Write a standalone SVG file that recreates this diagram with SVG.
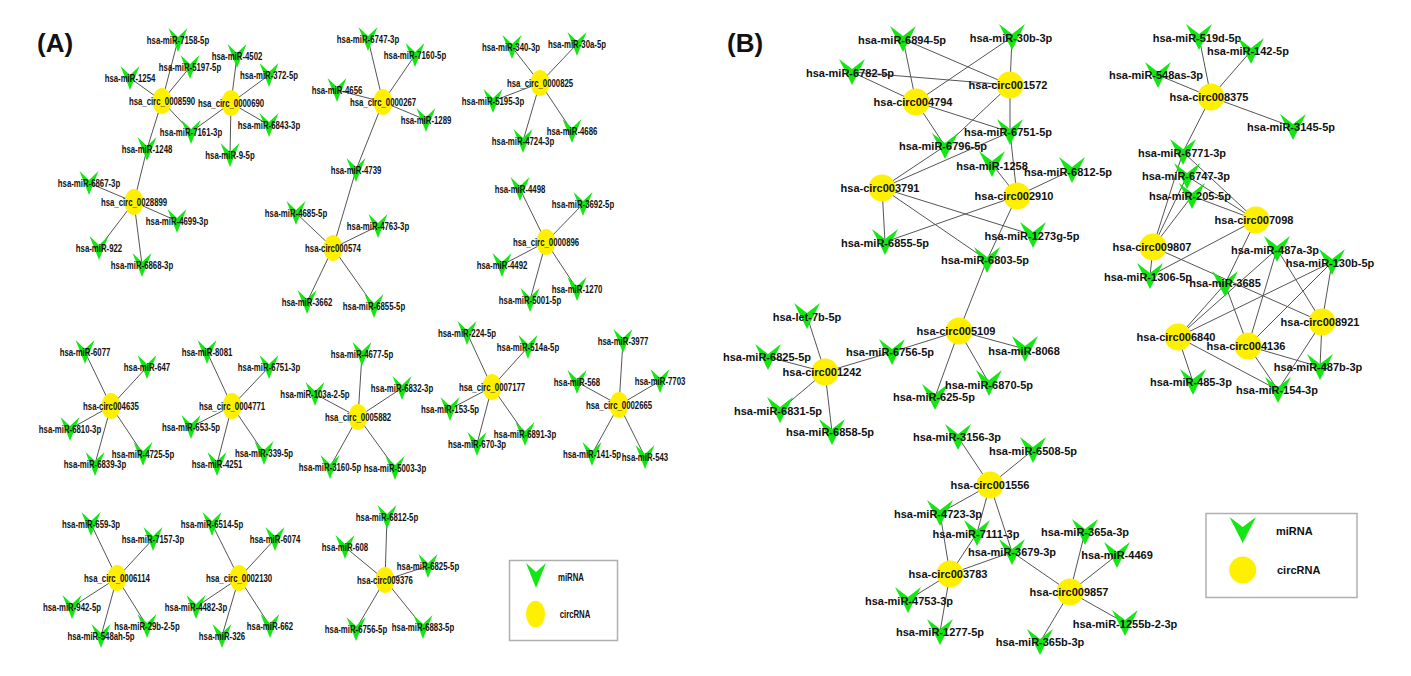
<svg xmlns="http://www.w3.org/2000/svg" xmlns:xlink="http://www.w3.org/1999/xlink" width="1411" height="676" viewBox="0 0 1411 676">
<style>
.e line{stroke:#555;stroke-width:1}
.ta{font-family:"Liberation Sans",Arial,sans-serif;font-weight:bold;font-size:10px;text-anchor:middle;fill:#111}
.tb{font-family:"Liberation Sans",Arial,sans-serif;font-weight:bold;font-size:11px;text-anchor:middle;fill:#111}
.tl{font-family:"Liberation Sans",Arial,sans-serif;font-weight:bold;fill:#111}
.ca{fill:#fff000}
.mi{fill:#14e614}
.lg{fill:#fff;stroke:#b0b0b0;stroke-width:1.5}
</style>
<defs>
<path id="va" class="mi" d="M-9.5,-12 L0,-3 L9.5,-12 L0,12 Z"/>
<path id="vb" class="mi" d="M-13,-13 L0,-3 L13,-13 L0,13 Z"/>
</defs>
<rect width="1411" height="676" fill="#fff"/>
<text class="tl" x="37" y="52" font-size="26">(A)</text>
<text class="tl" x="727" y="52" font-size="26">(B)</text>
<g id="edges" class="e">
<line x1="162" y1="101" x2="178" y2="40"/><line x1="162" y1="101" x2="190" y2="67"/><line x1="162" y1="101" x2="130" y2="78"/><line x1="162" y1="101" x2="191" y2="132"/><line x1="162" y1="101" x2="147" y2="149"/>
<line x1="231" y1="103" x2="237" y2="56"/><line x1="231" y1="103" x2="269" y2="75"/><line x1="231" y1="103" x2="269" y2="125"/><line x1="231" y1="103" x2="230" y2="155"/><line x1="231" y1="103" x2="191" y2="132"/>
<line x1="134" y1="202" x2="147" y2="149"/><line x1="134" y1="202" x2="89" y2="183"/><line x1="134" y1="202" x2="177" y2="221"/><line x1="134" y1="202" x2="99" y2="248"/><line x1="134" y1="202" x2="142" y2="265"/>
<line x1="383" y1="102" x2="368" y2="39"/><line x1="383" y1="102" x2="415" y2="55"/><line x1="383" y1="102" x2="337" y2="90"/><line x1="383" y1="102" x2="426" y2="120"/><line x1="383" y1="102" x2="356" y2="170"/>
<line x1="333" y1="248" x2="356" y2="170"/><line x1="333" y1="248" x2="296" y2="213"/><line x1="333" y1="248" x2="378" y2="226"/><line x1="333" y1="248" x2="307" y2="302"/><line x1="333" y1="248" x2="374" y2="306"/>
<line x1="540" y1="83" x2="512" y2="47"/><line x1="540" y1="83" x2="577" y2="44"/><line x1="540" y1="83" x2="493" y2="101"/><line x1="540" y1="83" x2="572" y2="131"/><line x1="540" y1="83" x2="523" y2="141"/>
<line x1="546" y1="242" x2="520" y2="189"/><line x1="546" y1="242" x2="583" y2="204"/><line x1="546" y1="242" x2="502" y2="265"/><line x1="546" y1="242" x2="577" y2="289"/><line x1="546" y1="242" x2="530" y2="300"/>
<line x1="111" y1="406" x2="85" y2="352"/><line x1="111" y1="406" x2="147" y2="367"/><line x1="111" y1="406" x2="70" y2="429"/><line x1="111" y1="406" x2="143" y2="454"/><line x1="111" y1="406" x2="95" y2="464"/>
<line x1="232" y1="406" x2="207" y2="352"/><line x1="232" y1="406" x2="269" y2="367"/><line x1="232" y1="406" x2="191" y2="427"/><line x1="232" y1="406" x2="264" y2="453"/><line x1="232" y1="406" x2="217" y2="464"/>
<line x1="358" y1="417" x2="362" y2="354"/><line x1="358" y1="417" x2="315" y2="394"/><line x1="358" y1="417" x2="402" y2="388"/><line x1="358" y1="417" x2="330" y2="467"/><line x1="358" y1="417" x2="395" y2="468"/>
<line x1="492" y1="387" x2="467" y2="333"/><line x1="492" y1="387" x2="528" y2="347"/><line x1="492" y1="387" x2="450" y2="409"/><line x1="492" y1="387" x2="525" y2="434"/><line x1="492" y1="387" x2="477" y2="444"/>
<line x1="619" y1="405" x2="623" y2="341"/><line x1="619" y1="405" x2="577" y2="382"/><line x1="619" y1="405" x2="660" y2="381"/><line x1="619" y1="405" x2="592" y2="454"/><line x1="619" y1="405" x2="645" y2="457"/>
<line x1="117" y1="578" x2="91" y2="524"/><line x1="117" y1="578" x2="153" y2="539"/><line x1="117" y1="578" x2="72" y2="607"/><line x1="117" y1="578" x2="147" y2="626"/><line x1="117" y1="578" x2="101" y2="636"/>
<line x1="239" y1="578" x2="212" y2="524"/><line x1="239" y1="578" x2="275" y2="539"/><line x1="239" y1="578" x2="196" y2="607"/><line x1="239" y1="578" x2="222" y2="636"/><line x1="239" y1="578" x2="270" y2="626"/>
<line x1="385" y1="580" x2="387" y2="517"/><line x1="385" y1="580" x2="345" y2="547"/><line x1="385" y1="580" x2="428" y2="566"/><line x1="385" y1="580" x2="356" y2="629"/><line x1="385" y1="580" x2="423" y2="627"/>
<line x1="916" y1="102" x2="903" y2="39"/><line x1="916" y1="102" x2="852" y2="72"/><line x1="916" y1="102" x2="1012" y2="37"/><line x1="916" y1="102" x2="945" y2="146"/><line x1="916" y1="102" x2="1010" y2="132"/>
<line x1="1010" y1="85" x2="903" y2="39"/><line x1="1010" y1="85" x2="852" y2="72"/><line x1="1010" y1="85" x2="1012" y2="37"/><line x1="1010" y1="85" x2="1010" y2="132"/><line x1="1010" y1="85" x2="945" y2="146"/>
<line x1="882" y1="188" x2="945" y2="146"/><line x1="882" y1="188" x2="1010" y2="132"/><line x1="882" y1="188" x2="885" y2="242"/><line x1="882" y1="188" x2="987" y2="260"/><line x1="882" y1="188" x2="1033" y2="235"/>
<line x1="1017" y1="196" x2="1010" y2="132"/><line x1="1017" y1="196" x2="992" y2="164"/><line x1="1017" y1="196" x2="1072" y2="170"/><line x1="1017" y1="196" x2="885" y2="242"/><line x1="1017" y1="196" x2="987" y2="260"/>
<line x1="959" y1="331" x2="987" y2="260"/><line x1="959" y1="331" x2="892" y2="352"/><line x1="959" y1="331" x2="1025" y2="349"/><line x1="959" y1="331" x2="989" y2="383"/><line x1="959" y1="331" x2="935" y2="397"/>
<line x1="825" y1="372" x2="807" y2="316"/><line x1="825" y1="372" x2="768" y2="357"/><line x1="825" y1="372" x2="892" y2="352"/><line x1="825" y1="372" x2="780" y2="410"/><line x1="825" y1="372" x2="832" y2="432"/>
<line x1="1211" y1="97" x2="1199" y2="37"/><line x1="1211" y1="97" x2="1251" y2="51"/><line x1="1211" y1="97" x2="1158" y2="75"/><line x1="1211" y1="97" x2="1293" y2="127"/><line x1="1211" y1="97" x2="1183" y2="152"/>
<line x1="1256" y1="220" x2="1183" y2="152"/><line x1="1256" y1="220" x2="1187" y2="176"/><line x1="1256" y1="220" x2="1192" y2="196"/><line x1="1256" y1="220" x2="1150" y2="276"/><line x1="1256" y1="220" x2="1225" y2="284"/>
<line x1="1153" y1="247" x2="1183" y2="152"/><line x1="1153" y1="247" x2="1187" y2="176"/><line x1="1153" y1="247" x2="1192" y2="196"/><line x1="1153" y1="247" x2="1150" y2="276"/><line x1="1153" y1="247" x2="1322" y2="322"/>
<line x1="1178" y1="337" x2="1225" y2="284"/><line x1="1178" y1="337" x2="1277" y2="249"/><line x1="1178" y1="337" x2="1332" y2="262"/><line x1="1178" y1="337" x2="1193" y2="382"/><line x1="1178" y1="337" x2="1278" y2="390"/>
<line x1="1248" y1="346" x2="1225" y2="284"/><line x1="1248" y1="346" x2="1277" y2="249"/><line x1="1248" y1="346" x2="1332" y2="262"/><line x1="1248" y1="346" x2="1320" y2="367"/><line x1="1248" y1="346" x2="1278" y2="390"/>
<line x1="1322" y1="322" x2="1277" y2="249"/><line x1="1322" y1="322" x2="1332" y2="262"/><line x1="1322" y1="322" x2="1320" y2="367"/><line x1="1322" y1="322" x2="1278" y2="390"/>
<line x1="990" y1="485" x2="958" y2="437"/><line x1="990" y1="485" x2="1033" y2="450"/><line x1="990" y1="485" x2="940" y2="513"/><line x1="990" y1="485" x2="977" y2="533"/><line x1="990" y1="485" x2="1012" y2="552"/>
<line x1="950" y1="574" x2="940" y2="513"/><line x1="950" y1="574" x2="977" y2="533"/><line x1="950" y1="574" x2="1012" y2="552"/><line x1="950" y1="574" x2="908" y2="600"/><line x1="950" y1="574" x2="940" y2="632"/>
<line x1="1070" y1="592" x2="1012" y2="552"/><line x1="1070" y1="592" x2="1085" y2="532"/><line x1="1070" y1="592" x2="1117" y2="555"/><line x1="1070" y1="592" x2="1125" y2="623"/><line x1="1070" y1="592" x2="1040" y2="642"/>
</g>
<!-- Panel A nodes -->
<g id="a_c0008590"><ellipse class="ca" cx="162" cy="101" rx="9.5" ry="13"/><text class="ta" transform="translate(162 104.5) scale(.78 1)">hsa_circ_0008590</text></g>
<g id="a_m7158"><use xlink:href="#va" x="178" y="40"/><text class="ta" transform="translate(178 43.5) scale(.78 1)">hsa-miR-7158-5p</text></g>
<g id="a_m5197"><use xlink:href="#va" x="190" y="67"/><text class="ta" transform="translate(190 70.5) scale(.78 1)">hsa-miR-5197-5p</text></g>
<g id="a_m1254"><use xlink:href="#va" x="130" y="78"/><text class="ta" transform="translate(130 81.5) scale(.78 1)">hsa-miR-1254</text></g>
<g id="a_m7161"><use xlink:href="#va" x="191" y="132"/><text class="ta" transform="translate(191 135.5) scale(.78 1)">hsa-miR-7161-3p</text></g>
<g id="a_m1248"><use xlink:href="#va" x="147" y="149"/><text class="ta" transform="translate(147 152.5) scale(.78 1)">hsa-miR-1248</text></g>
<g id="a_c0000690"><ellipse class="ca" cx="231" cy="103" rx="9.5" ry="13"/><text class="ta" transform="translate(231 106.5) scale(.78 1)">hsa_circ_0000690</text></g>
<g id="a_m4502"><use xlink:href="#va" x="237" y="56"/><text class="ta" transform="translate(237 59.5) scale(.78 1)">hsa-miR-4502</text></g>
<g id="a_m372"><use xlink:href="#va" x="269" y="75"/><text class="ta" transform="translate(269 78.5) scale(.78 1)">hsa-miR-372-5p</text></g>
<g id="a_m6843"><use xlink:href="#va" x="269" y="125"/><text class="ta" transform="translate(269 128.5) scale(.78 1)">hsa-miR-6843-3p</text></g>
<g id="a_m9"><use xlink:href="#va" x="230" y="155"/><text class="ta" transform="translate(230 158.5) scale(.78 1)">hsa-miR-9-5p</text></g>
<g id="a_c0028899"><ellipse class="ca" cx="134" cy="202" rx="9.5" ry="13"/><text class="ta" transform="translate(134 205.5) scale(.78 1)">hsa_circ_0028899</text></g>
<g id="a_m6867"><use xlink:href="#va" x="89" y="183"/><text class="ta" transform="translate(89 186.5) scale(.78 1)">hsa-miR-6867-3p</text></g>
<g id="a_m4699"><use xlink:href="#va" x="177" y="221"/><text class="ta" transform="translate(177 224.5) scale(.78 1)">hsa-miR-4699-3p</text></g>
<g id="a_m922"><use xlink:href="#va" x="99" y="248"/><text class="ta" transform="translate(99 251.5) scale(.78 1)">hsa-miR-922</text></g>
<g id="a_m6868"><use xlink:href="#va" x="142" y="265"/><text class="ta" transform="translate(142 268.5) scale(.78 1)">hsa-miR-6868-3p</text></g>
<g id="a_c0000267"><ellipse class="ca" cx="383" cy="102" rx="9.5" ry="13"/><text class="ta" transform="translate(383 105.5) scale(.78 1)">hsa_circ_0000267</text></g>
<g id="a_m6747"><use xlink:href="#va" x="368" y="39"/><text class="ta" transform="translate(368 42.5) scale(.78 1)">hsa-miR-6747-3p</text></g>
<g id="a_m7160"><use xlink:href="#va" x="415" y="55"/><text class="ta" transform="translate(415 58.5) scale(.78 1)">hsa-miR-7160-5p</text></g>
<g id="a_m4656"><use xlink:href="#va" x="337" y="90"/><text class="ta" transform="translate(337 93.5) scale(.78 1)">hsa-miR-4656</text></g>
<g id="a_m1289"><use xlink:href="#va" x="426" y="120"/><text class="ta" transform="translate(426 123.5) scale(.78 1)">hsa-miR-1289</text></g>
<g id="a_m4739"><use xlink:href="#va" x="356" y="170"/><text class="ta" transform="translate(356 173.5) scale(.78 1)">hsa-miR-4739</text></g>
<g id="a_c000574"><ellipse class="ca" cx="333" cy="248" rx="9.5" ry="13"/><text class="ta" transform="translate(333 251.5) scale(.78 1)">hsa-circ000574</text></g>
<g id="a_m4685"><use xlink:href="#va" x="296" y="213"/><text class="ta" transform="translate(296 216.5) scale(.78 1)">hsa-miR-4685-5p</text></g>
<g id="a_m4763"><use xlink:href="#va" x="378" y="226"/><text class="ta" transform="translate(378 229.5) scale(.78 1)">hsa-miR-4763-3p</text></g>
<g id="a_m3662"><use xlink:href="#va" x="307" y="302"/><text class="ta" transform="translate(307 305.5) scale(.78 1)">hsa-miR-3662</text></g>
<g id="a_m6855"><use xlink:href="#va" x="374" y="306"/><text class="ta" transform="translate(374 309.5) scale(.78 1)">hsa-miR-6855-5p</text></g>
<g id="a_c0000825"><ellipse class="ca" cx="540" cy="83" rx="9.5" ry="13"/><text class="ta" transform="translate(540 86.5) scale(.78 1)">hsa_circ_0000825</text></g>
<g id="a_m340"><use xlink:href="#va" x="512" y="47"/><text class="ta" transform="translate(511 50.5) scale(.78 1)">hsa-miR-340-3p</text></g>
<g id="a_m30a"><use xlink:href="#va" x="577" y="44"/><text class="ta" transform="translate(577 47.5) scale(.78 1)">hsa-miR-30a-5p</text></g>
<g id="a_m5195"><use xlink:href="#va" x="493" y="101"/><text class="ta" transform="translate(493 104.5) scale(.78 1)">hsa-miR-5195-3p</text></g>
<g id="a_m4686"><use xlink:href="#va" x="572" y="131"/><text class="ta" transform="translate(572 134.5) scale(.78 1)">hsa-miR-4686</text></g>
<g id="a_m4724"><use xlink:href="#va" x="523" y="141"/><text class="ta" transform="translate(523 144.5) scale(.78 1)">hsa-miR-4724-3p</text></g>
<g id="a_c0000896"><ellipse class="ca" cx="546" cy="242" rx="9.5" ry="13"/><text class="ta" transform="translate(546 245.5) scale(.78 1)">hsa_circ_0000896</text></g>
<g id="a_m4498"><use xlink:href="#va" x="520" y="189"/><text class="ta" transform="translate(520 192.5) scale(.78 1)">hsa-miR-4498</text></g>
<g id="a_m3692"><use xlink:href="#va" x="583" y="204"/><text class="ta" transform="translate(583 207.5) scale(.78 1)">hsa-miR-3692-5p</text></g>
<g id="a_m4492"><use xlink:href="#va" x="502" y="265"/><text class="ta" transform="translate(502 268.5) scale(.78 1)">hsa-miR-4492</text></g>
<g id="a_m1270"><use xlink:href="#va" x="577" y="289"/><text class="ta" transform="translate(577 292.5) scale(.78 1)">hsa-miR-1270</text></g>
<g id="a_m5001"><use xlink:href="#va" x="530" y="300"/><text class="ta" transform="translate(530 303.5) scale(.78 1)">hsa-miR-5001-5p</text></g>
<g id="a_c004635"><ellipse class="ca" cx="111" cy="406" rx="9.5" ry="13"/><text class="ta" transform="translate(111 409.5) scale(.78 1)">hsa-circ004635</text></g>
<g id="a_m6077"><use xlink:href="#va" x="85" y="352"/><text class="ta" transform="translate(85 355.5) scale(.78 1)">hsa-miR-6077</text></g>
<g id="a_m647"><use xlink:href="#va" x="147" y="367"/><text class="ta" transform="translate(147 370.5) scale(.78 1)">hsa-miR-647</text></g>
<g id="a_m6810"><use xlink:href="#va" x="70" y="429"/><text class="ta" transform="translate(70 432.5) scale(.78 1)">hsa-miR-6810-3p</text></g>
<g id="a_m4725"><use xlink:href="#va" x="143" y="454"/><text class="ta" transform="translate(143 457.5) scale(.78 1)">hsa-miR-4725-5p</text></g>
<g id="a_m6839"><use xlink:href="#va" x="95" y="464"/><text class="ta" transform="translate(95 467.5) scale(.78 1)">hsa-miR-6839-3p</text></g>
<g id="a_c0004771"><ellipse class="ca" cx="232" cy="406" rx="9.5" ry="13"/><text class="ta" transform="translate(232 409.5) scale(.78 1)">hsa_circ_0004771</text></g>
<g id="a_m8081"><use xlink:href="#va" x="207" y="352"/><text class="ta" transform="translate(207 355.5) scale(.78 1)">hsa-miR-8081</text></g>
<g id="a_m6751"><use xlink:href="#va" x="269" y="367"/><text class="ta" transform="translate(269 370.5) scale(.78 1)">hsa-miR-6751-3p</text></g>
<g id="a_m653"><use xlink:href="#va" x="191" y="427"/><text class="ta" transform="translate(191 430.5) scale(.78 1)">hsa-miR-653-5p</text></g>
<g id="a_m339"><use xlink:href="#va" x="264" y="453"/><text class="ta" transform="translate(264 456.5) scale(.78 1)">hsa-miR-339-5p</text></g>
<g id="a_m4251"><use xlink:href="#va" x="217" y="464"/><text class="ta" transform="translate(217 467.5) scale(.78 1)">hsa-miR-4251</text></g>
<g id="a_c0005882"><ellipse class="ca" cx="358" cy="417" rx="9.5" ry="13"/><text class="ta" transform="translate(358 420.5) scale(.78 1)">hsa_circ_0005882</text></g>
<g id="a_m4677"><use xlink:href="#va" x="362" y="354"/><text class="ta" transform="translate(362 357.5) scale(.78 1)">hsa-miR-4677-5p</text></g>
<g id="a_m103a"><use xlink:href="#va" x="315" y="394"/><text class="ta" transform="translate(315 397.5) scale(.78 1)">hsa-miR-103a-2-5p</text></g>
<g id="a_m6832"><use xlink:href="#va" x="402" y="388"/><text class="ta" transform="translate(402 391.5) scale(.78 1)">hsa-miR-6832-3p</text></g>
<g id="a_m3160"><use xlink:href="#va" x="330" y="467"/><text class="ta" transform="translate(330 470.5) scale(.78 1)">hsa-miR-3160-5p</text></g>
<g id="a_m5003"><use xlink:href="#va" x="395" y="468"/><text class="ta" transform="translate(395 471.5) scale(.78 1)">hsa-miR-5003-3p</text></g>
<g id="a_c0007177"><ellipse class="ca" cx="492" cy="387" rx="9.5" ry="13"/><text class="ta" transform="translate(492 390.5) scale(.78 1)">hsa_circ_0007177</text></g>
<g id="a_m224"><use xlink:href="#va" x="467" y="333"/><text class="ta" transform="translate(467 336.5) scale(.78 1)">hsa-miR-224-5p</text></g>
<g id="a_m514a"><use xlink:href="#va" x="528" y="347"/><text class="ta" transform="translate(528 350.5) scale(.78 1)">hsa-miR-514a-5p</text></g>
<g id="a_m153"><use xlink:href="#va" x="450" y="409"/><text class="ta" transform="translate(450 412.5) scale(.78 1)">hsa-miR-153-5p</text></g>
<g id="a_m6891"><use xlink:href="#va" x="525" y="434"/><text class="ta" transform="translate(525 437.5) scale(.78 1)">hsa-miR-6891-3p</text></g>
<g id="a_m670"><use xlink:href="#va" x="477" y="444"/><text class="ta" transform="translate(477 447.5) scale(.78 1)">hsa-miR-670-3p</text></g>
<g id="a_c0002665"><ellipse class="ca" cx="619" cy="405" rx="9.5" ry="13"/><text class="ta" transform="translate(619 408.5) scale(.78 1)">hsa_circ_0002665</text></g>
<g id="a_m3977"><use xlink:href="#va" x="623" y="341"/><text class="ta" transform="translate(623 344.5) scale(.78 1)">hsa-miR-3977</text></g>
<g id="a_m568"><use xlink:href="#va" x="577" y="382"/><text class="ta" transform="translate(577 385.5) scale(.78 1)">hsa-miR-568</text></g>
<g id="a_m7703"><use xlink:href="#va" x="660" y="381"/><text class="ta" transform="translate(660 384.5) scale(.78 1)">hsa-miR-7703</text></g>
<g id="a_m141"><use xlink:href="#va" x="592" y="454"/><text class="ta" transform="translate(592 457.5) scale(.78 1)">hsa-miR-141-5p</text></g>
<g id="a_m543"><use xlink:href="#va" x="645" y="457"/><text class="ta" transform="translate(645 460.5) scale(.78 1)">hsa-miR-543</text></g>
<g id="a_c0006114"><ellipse class="ca" cx="117" cy="578" rx="9.5" ry="13"/><text class="ta" transform="translate(117 581.5) scale(.78 1)">hsa_circ_0006114</text></g>
<g id="a_m659"><use xlink:href="#va" x="91" y="524"/><text class="ta" transform="translate(91 527.5) scale(.78 1)">hsa-miR-659-3p</text></g>
<g id="a_m7157"><use xlink:href="#va" x="153" y="539"/><text class="ta" transform="translate(153 542.5) scale(.78 1)">hsa-miR-7157-3p</text></g>
<g id="a_m942"><use xlink:href="#va" x="72" y="607"/><text class="ta" transform="translate(72 610.5) scale(.78 1)">hsa-miR-942-5p</text></g>
<g id="a_m29b"><use xlink:href="#va" x="147" y="626"/><text class="ta" transform="translate(147 629.5) scale(.78 1)">hsa-miR-29b-2-5p</text></g>
<g id="a_m548ah"><use xlink:href="#va" x="101" y="636"/><text class="ta" transform="translate(101 639.5) scale(.78 1)">hsa-miR-548ah-5p</text></g>
<g id="a_c0002130"><ellipse class="ca" cx="239" cy="578" rx="9.5" ry="13"/><text class="ta" transform="translate(239 581.5) scale(.78 1)">hsa_circ_0002130</text></g>
<g id="a_m6514"><use xlink:href="#va" x="212" y="524"/><text class="ta" transform="translate(212 527.5) scale(.78 1)">hsa-miR-6514-5p</text></g>
<g id="a_m6074"><use xlink:href="#va" x="275" y="539"/><text class="ta" transform="translate(275 542.5) scale(.78 1)">hsa-miR-6074</text></g>
<g id="a_m4482"><use xlink:href="#va" x="196" y="607"/><text class="ta" transform="translate(196 610.5) scale(.78 1)">hsa-miR-4482-3p</text></g>
<g id="a_m326"><use xlink:href="#va" x="222" y="636"/><text class="ta" transform="translate(222 639.5) scale(.78 1)">hsa-miR-326</text></g>
<g id="a_m662"><use xlink:href="#va" x="270" y="626"/><text class="ta" transform="translate(270 629.5) scale(.78 1)">hsa-miR-662</text></g>
<g id="a_c009376"><ellipse class="ca" cx="385" cy="580" rx="9.5" ry="13"/><text class="ta" transform="translate(385 583.5) scale(.78 1)">hsa-circ009376</text></g>
<g id="a_m6812"><use xlink:href="#va" x="387" y="517"/><text class="ta" transform="translate(387 520.5) scale(.78 1)">hsa-miR-6812-5p</text></g>
<g id="a_m608"><use xlink:href="#va" x="345" y="547"/><text class="ta" transform="translate(345 550.5) scale(.78 1)">hsa-miR-608</text></g>
<g id="a_m6825"><use xlink:href="#va" x="428" y="566"/><text class="ta" transform="translate(428 569.5) scale(.78 1)">hsa-miR-6825-5p</text></g>
<g id="a_m6756"><use xlink:href="#va" x="356" y="629"/><text class="ta" transform="translate(356 632.5) scale(.78 1)">hsa-miR-6756-5p</text></g>
<g id="a_m6883"><use xlink:href="#va" x="423" y="627"/><text class="ta" transform="translate(423 630.5) scale(.78 1)">hsa-miR-6883-5p</text></g>
<g id="a_legend"><rect class="lg" x="509.5" y="560.5" width="108" height="80"/><path class="mi" d="M526,563 L536,572 L546,563 L536,588 Z"/><text class="ta" transform="translate(571 580.5) scale(.78 1)">miRNA</text><ellipse class="ca" cx="535.5" cy="614" rx="9.5" ry="13.3"/><text class="ta" transform="translate(575 617.5) scale(.78 1)">circRNA</text></g>
<!-- Panel B nodes -->
<g id="b_c004794"><circle class="ca" cx="916" cy="102" r="13.5"/><text class="tb" x="913" y="106">hsa-circ004794</text></g>
<g id="b_c001572"><circle class="ca" cx="1010" cy="85" r="13.5"/><text class="tb" x="1008" y="89">hsa-circ001572</text></g>
<g id="b_c003791"><circle class="ca" cx="882" cy="188" r="13.5"/><text class="tb" x="880" y="192">hsa-circ003791</text></g>
<g id="b_c002910"><circle class="ca" cx="1017" cy="196" r="13.5"/><text class="tb" x="1014" y="200">hsa-circ002910</text></g>
<g id="b_c005109"><circle class="ca" cx="959" cy="331" r="13.5"/><text class="tb" x="956" y="335">hsa-circ005109</text></g>
<g id="b_c001242"><circle class="ca" cx="825" cy="372" r="13.5"/><text class="tb" x="822" y="376">hsa-circ001242</text></g>
<g id="b_m6894"><use xlink:href="#vb" x="903" y="39"/><text class="tb" x="902" y="44">hsa-miR-6894-5p</text></g>
<g id="b_m6782"><use xlink:href="#vb" x="852" y="72"/><text class="tb" x="850" y="77">hsa-miR-6782-5p</text></g>
<g id="b_m30b"><use xlink:href="#vb" x="1012" y="37"/><text class="tb" x="1011" y="42">hsa-miR-30b-3p</text></g>
<g id="b_m6751"><use xlink:href="#vb" x="1010" y="132"/><text class="tb" x="1008" y="136">hsa-miR-6751-5p</text></g>
<g id="b_m6796"><use xlink:href="#vb" x="945" y="146"/><text class="tb" x="943" y="150">hsa-miR-6796-5p</text></g>
<g id="b_m1258"><use xlink:href="#vb" x="992" y="164"/><text class="tb" x="992" y="170">hsa-miR-1258</text></g>
<g id="b_m6812"><use xlink:href="#vb" x="1072" y="170"/><text class="tb" x="1068" y="176">hsa-miR-6812-5p</text></g>
<g id="b_m6855"><use xlink:href="#vb" x="885" y="242"/><text class="tb" x="885" y="247">hsa-miR-6855-5p</text></g>
<g id="b_m1273g"><use xlink:href="#vb" x="1033" y="235"/><text class="tb" x="1032" y="240">hsa-miR-1273g-5p</text></g>
<g id="b_m6803"><use xlink:href="#vb" x="987" y="260"/><text class="tb" x="985" y="264">hsa-miR-6803-5p</text></g>
<g id="b_mlet7b"><use xlink:href="#vb" x="807" y="316"/><text class="tb" x="807" y="321">hsa-let-7b-5p</text></g>
<g id="b_m6825"><use xlink:href="#vb" x="768" y="357"/><text class="tb" x="767" y="361">hsa-miR-6825-5p</text></g>
<g id="b_m6756"><use xlink:href="#vb" x="892" y="352"/><text class="tb" x="890" y="356">hsa-miR-6756-5p</text></g>
<g id="b_m6831"><use xlink:href="#vb" x="780" y="410"/><text class="tb" x="778" y="415">hsa-miR-6831-5p</text></g>
<g id="b_m6858"><use xlink:href="#vb" x="832" y="432"/><text class="tb" x="830" y="436">hsa-miR-6858-5p</text></g>
<g id="b_m625"><use xlink:href="#vb" x="935" y="397"/><text class="tb" x="934" y="401">hsa-miR-625-5p</text></g>
<g id="b_m8068"><use xlink:href="#vb" x="1025" y="349"/><text class="tb" x="1024" y="355">hsa-miR-8068</text></g>
<g id="b_m6870"><use xlink:href="#vb" x="989" y="383"/><text class="tb" x="989" y="389">hsa-miR-6870-5p</text></g>
<g id="b_c008375"><circle class="ca" cx="1211" cy="97" r="13.5"/><text class="tb" x="1209" y="101">hsa-circ008375</text></g>
<g id="b_m519d"><use xlink:href="#vb" x="1199" y="37"/><text class="tb" x="1197" y="42">hsa-miR-519d-5p</text></g>
<g id="b_m142"><use xlink:href="#vb" x="1251" y="51"/><text class="tb" x="1248" y="55">hsa-miR-142-5p</text></g>
<g id="b_m548as"><use xlink:href="#vb" x="1158" y="75"/><text class="tb" x="1156" y="79">hsa-miR-548as-3p</text></g>
<g id="b_m3145"><use xlink:href="#vb" x="1293" y="127"/><text class="tb" x="1291" y="131">hsa-miR-3145-5p</text></g>
<g id="b_m6771"><use xlink:href="#vb" x="1183" y="152"/><text class="tb" x="1182" y="157">hsa-miR-6771-3p</text></g>
<g id="b_m6747"><use xlink:href="#vb" x="1187" y="176"/><text class="tb" x="1186" y="180">hsa-miR-6747-3p</text></g>
<g id="b_m205"><use xlink:href="#vb" x="1192" y="196"/><text class="tb" x="1190" y="200">hsa-miR-205-5p</text></g>
<g id="b_c007098"><circle class="ca" cx="1256" cy="220" r="13.5"/><text class="tb" x="1254" y="224">hsa-circ007098</text></g>
<g id="b_c009807"><circle class="ca" cx="1153" cy="247" r="13.5"/><text class="tb" x="1152" y="251">hsa-circ009807</text></g>
<g id="b_m487a"><use xlink:href="#vb" x="1277" y="249"/><text class="tb" x="1275" y="254">hsa-miR-487a-3p</text></g>
<g id="b_m130b"><use xlink:href="#vb" x="1332" y="262"/><text class="tb" x="1330" y="267">hsa-miR-130b-5p</text></g>
<g id="b_m1306"><use xlink:href="#vb" x="1150" y="276"/><text class="tb" x="1148" y="281">hsa-miR-1306-5p</text></g>
<g id="b_m3685"><use xlink:href="#vb" x="1225" y="284"/><text class="tb" x="1225" y="287">hsa-miR-3685</text></g>
<g id="b_c008921"><circle class="ca" cx="1322" cy="322" r="13.5"/><text class="tb" x="1320" y="326">hsa-circ008921</text></g>
<g id="b_c006840"><circle class="ca" cx="1178" cy="337" r="13.5"/><text class="tb" x="1176" y="341">hsa-circ006840</text></g>
<g id="b_c004136"><circle class="ca" cx="1248" cy="346" r="13.5"/><text class="tb" x="1246" y="350">hsa-circ004136</text></g>
<g id="b_m487b"><use xlink:href="#vb" x="1320" y="367"/><text class="tb" x="1318" y="371">hsa-miR-487b-3p</text></g>
<g id="b_m485"><use xlink:href="#vb" x="1193" y="382"/><text class="tb" x="1191" y="386">hsa-miR-485-3p</text></g>
<g id="b_m154"><use xlink:href="#vb" x="1278" y="390"/><text class="tb" x="1277" y="394">hsa-miR-154-3p</text></g>
<g id="b_c001556"><circle class="ca" cx="990" cy="485" r="13.5"/><text class="tb" x="990" y="489">hsa-circ001556</text></g>
<g id="b_m3156"><use xlink:href="#vb" x="958" y="437"/><text class="tb" x="957" y="441">hsa-miR-3156-3p</text></g>
<g id="b_m6508"><use xlink:href="#vb" x="1033" y="450"/><text class="tb" x="1033" y="455">hsa-miR-6508-5p</text></g>
<g id="b_m4723"><use xlink:href="#vb" x="940" y="513"/><text class="tb" x="938" y="518">hsa-miR-4723-3p</text></g>
<g id="b_m7111"><use xlink:href="#vb" x="977" y="533"/><text class="tb" x="976" y="538">hsa-miR-7111-3p</text></g>
<g id="b_m3679"><use xlink:href="#vb" x="1012" y="552"/><text class="tb" x="1012" y="556">hsa-miR-3679-3p</text></g>
<g id="b_m365a"><use xlink:href="#vb" x="1085" y="532"/><text class="tb" x="1085" y="536">hsa-miR-365a-3p</text></g>
<g id="b_m4469"><use xlink:href="#vb" x="1117" y="555"/><text class="tb" x="1117" y="559">hsa-miR-4469</text></g>
<g id="b_c003783"><circle class="ca" cx="950" cy="574" r="13.5"/><text class="tb" x="948" y="578">hsa-circ003783</text></g>
<g id="b_c009857"><circle class="ca" cx="1070" cy="592" r="13.5"/><text class="tb" x="1069" y="596">hsa-circ009857</text></g>
<g id="b_m4753"><use xlink:href="#vb" x="908" y="600"/><text class="tb" x="909" y="605">hsa-miR-4753-3p</text></g>
<g id="b_m1277"><use xlink:href="#vb" x="940" y="632"/><text class="tb" x="940" y="636">hsa-miR-1277-5p</text></g>
<g id="b_m365b"><use xlink:href="#vb" x="1040" y="642"/><text class="tb" x="1040" y="646">hsa-miR-365b-3p</text></g>
<g id="b_m1255b"><use xlink:href="#vb" x="1125" y="623"/><text class="tb" x="1125" y="628">hsa-miR-1255b-2-3p</text></g>
<g id="b_legend"><rect class="lg" x="1206" y="513.5" width="151" height="84"/><path class="mi" d="M1229.5,517 L1242.7,527 L1256,517 L1242.7,543 Z"/><text class="tl" x="1276" y="535" font-size="11">miRNA</text><circle class="ca" cx="1242.7" cy="570" r="13.5"/><text class="tl" x="1277" y="574" font-size="11">circRNA</text></g>
</svg>
